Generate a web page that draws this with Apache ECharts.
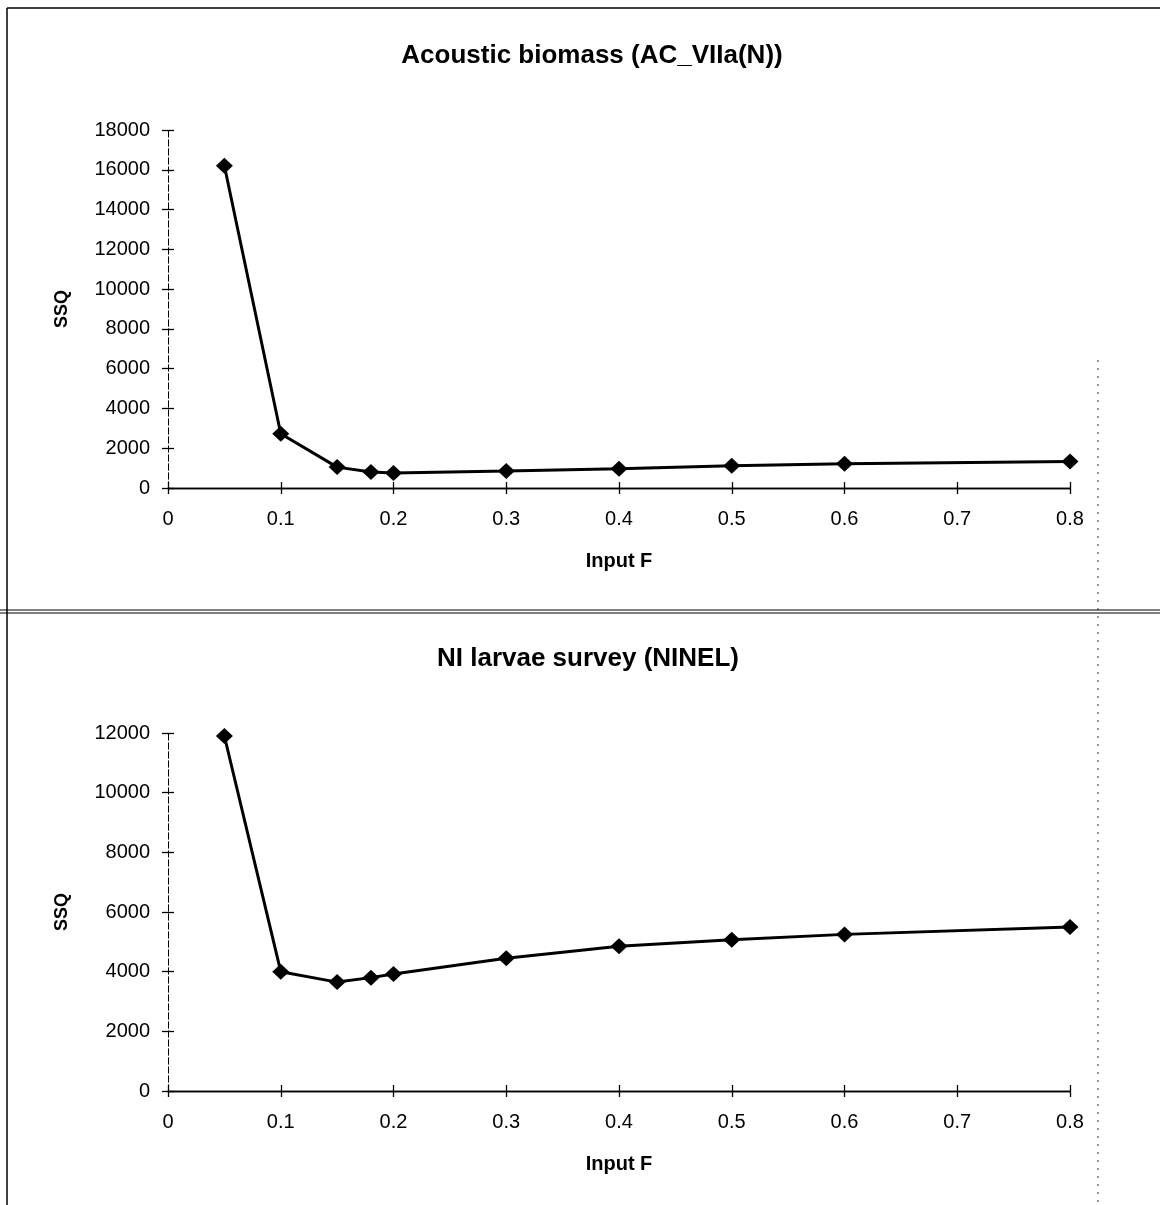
<!DOCTYPE html>
<html>
<head>
<meta charset="utf-8">
<script src="https://cdn.jsdelivr.net/npm/echarts@6/dist/echarts.min.js"></script>
<style>
  html, body { margin: 0; padding: 0; background: #fff; }
  #chart { width: 1160px; height: 1205px; }
</style>
</head>
<body>
<div id="chart"></div>
<script>
// input F values (x) shared by both panels
var inputF = [0.05, 0.1, 0.15, 0.18, 0.2, 0.3, 0.4, 0.5, 0.6, 0.8];
// SSQ
var ssqAcoustic = [16200, 2730, 1050, 800, 750, 850, 970, 1120, 1220, 1330];
var ssqNinel = [11900, 4000, 3650, 3800, 3920, 4450, 4850, 5070, 5250, 5500];
var titles = ['Acoustic biomass (AC_VIIa(N))', 'NI larvae survey (NINEL)'];
var yMax = [18000, 12000];

var chart = echarts.init(document.getElementById('chart'));
var font = 'Liberation Sans, Arial, sans-serif';

function pairs(ys) {
    return inputF.map(function (x, i) { return [x, ys[i]]; });
}

// one visible axis with outside ticks plus a bare twin with inside ticks,
// so the ticks cross the axis line like in the original
function xAxes(g) {
    var base = {
        type: 'value', gridIndex: g, min: 0, max: 0.8, interval: 0.1, position: 'bottom',
        axisLine: { onZero: false, lineStyle: { color: '#000', width: 1.3 } },
        axisTick: { length: 6, lineStyle: { color: '#000', width: 1.3 } },
        splitLine: { show: false }
    };
    var main = Object.assign({}, base, {
        name: 'Input F', nameLocation: 'middle', nameGap: 63,
        nameTextStyle: { fontFamily: font, fontSize: 20, fontWeight: 'bold', color: '#000' },
        axisLabel: { margin: 21, fontFamily: font, fontSize: 20, color: '#000',
            formatter: function (v) { return +v.toFixed(1) + ''; } }
    });
    var twin = Object.assign({}, base, {
        axisTick: { inside: true, length: 6, lineStyle: { color: '#000', width: 1.3 } },
        axisLabel: { show: false }
    });
    return [main, twin];
}

function yAxes(g) {
    var base = {
        type: 'value', gridIndex: g, min: 0, max: yMax[g], interval: 2000, position: 'left',
        axisLine: { show: true, onZero: false, lineStyle: { color: '#000', width: 1, type: [6, 3] } },
        axisTick: { show: true, length: 6, lineStyle: { color: '#000', width: 1.3 } },
        splitLine: { show: false }
    };
    var main = Object.assign({}, base, {
        name: 'SSQ', nameLocation: 'middle', nameGap: 97, nameRotate: 90,
        nameTextStyle: { fontFamily: font, fontSize: 18, fontWeight: 'bold', color: '#000' },
        axisLabel: { margin: 18, fontFamily: font, fontSize: 20, color: '#000',
            formatter: function (v) { return v + ''; } }
    });
    var twin = Object.assign({}, base, {
        axisTick: { show: true, inside: true, length: 6, lineStyle: { color: '#000', width: 1.3 } },
        axisLabel: { show: false }
    });
    return [main, twin];
}

function frameLine(x1, y1, x2, y2, w, dash) {
    return {
        type: 'line', silent: true,
        shape: { x1: x1, y1: y1, x2: x2, y2: y2 },
        style: { stroke: '#000', lineWidth: w, lineDash: dash || null }
    };
}

var option = {
    backgroundColor: '#fff',
    animation: false,
    title: [
        { text: titles[0], left: 587, top: 38, textAlign: 'center',
          textStyle: { fontFamily: font, fontSize: 26, fontWeight: 'bold', color: '#000' } },
        { text: titles[1], left: 583, top: 641, textAlign: 'center',
          textStyle: { fontFamily: font, fontSize: 26, fontWeight: 'bold', color: '#000' } }
    ],
    grid: [
        { left: 168, top: 130, width: 902, height: 358 },
        { left: 168, top: 733, width: 902, height: 358 }
    ],
    xAxis: xAxes(0).concat(xAxes(1)),
    yAxis: yAxes(0).concat(yAxes(1)),
    series: [ssqAcoustic, ssqNinel].map(function (ys, g) {
        return {
            type: 'line', xAxisIndex: g * 2, yAxisIndex: g * 2,
            data: pairs(ys),
            symbol: 'diamond', symbolSize: [17, 16],
            itemStyle: { color: '#000' },
            lineStyle: { color: '#000', width: 3 }
        };
    }),
    graphic: [
        // page frame of the scanned figure
        frameLine(7, 8, 1160, 8, 1.5),
        frameLine(7, 8, 7, 1205, 1.5),
        frameLine(0, 610, 1160, 610, 1.2),
        frameLine(0, 613, 1160, 613, 1.2),
        frameLine(1098, 360, 1098, 1205, 0.8, [2, 6])
    ]
};

chart.setOption(option);

window.onresize = function () {
    chart.resize();
};
</script>
</body>
</html>
